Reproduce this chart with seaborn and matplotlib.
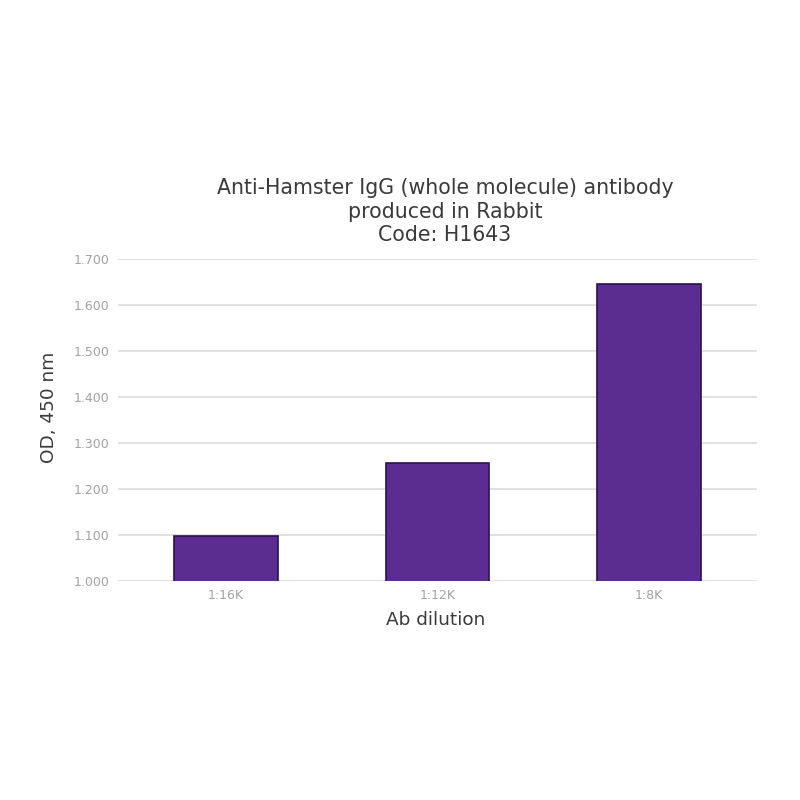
import matplotlib
matplotlib.use('Agg')
import matplotlib.pyplot as plt
import pandas as pd
import seaborn as sns

dilutions = ['1:16K', '1:12K', '1:8K']
od_450 = [1.098, 1.257, 1.646]
y_ticks = [1.0, 1.1, 1.2, 1.3, 1.4, 1.5, 1.6, 1.7]

df = pd.DataFrame({'dilution': dilutions, 'od': od_450})

sns.set_style('white')
plt.rcParams['font.family'] = ['DejaVu Sans']

fig = plt.figure(figsize=(8, 8), dpi=100)
ax = fig.add_axes([0.1475, 0.274, 0.7985, 0.402])

sns.barplot(x='dilution', y='od', data=df, color='#5b2d90', saturation=1,
            width=0.49, edgecolor='#2a1252', linewidth=1.2, zorder=3, ax=ax)

ax.set_ylim(1.0, 1.7)
ax.set_xlim(-0.51, 2.51)
ax.set_yticks(y_ticks)
ax.set_yticklabels([f'{v:.3f}' for v in y_ticks])
ax.grid(axis='y', color='#dcdcdc', linewidth=1.2, zorder=0)
for s in ax.spines.values():
    s.set_visible(False)
ax.tick_params(axis='both', length=0, labelsize=9, labelcolor='#a0a0a0', pad=6)

ax.set_xlabel('Ab dilution', fontsize=13.3, color='#3a3a3a')
ax.set_ylabel('OD, 450 nm', fontsize=13.3, color='#3a3a3a')
ax.xaxis.set_label_coords(0.497, -0.095)
ax.yaxis.set_label_coords(-0.094, 0.54)
ax.set_title('Anti-Hamster IgG (whole molecule) antibody\nproduced in Rabbit\nCode: H1643',
             fontsize=14.8, color='#3a3a3a', pad=13, linespacing=1.22, x=0.512)

fig.savefig('out.png', dpi=100)
